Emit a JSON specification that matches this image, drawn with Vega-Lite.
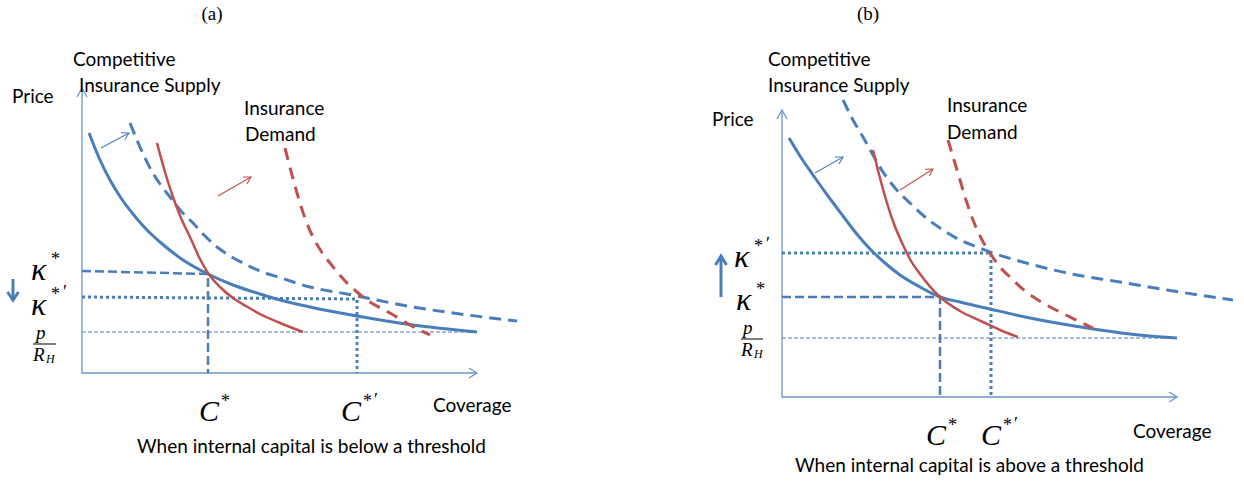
{
"$schema":"https://vega.github.io/schema/vega-lite/v6.json",
"width":1244,"height":485,"padding":0,
"autosize":{"type":"fit","contains":"padding"},
"background":"white",
"config":{"view":{"stroke":null}},
"datasets":{
"lines":[
{"id":"ax_a","g":"ax","o":1,"x":82,"y":88},{"id":"ax_a","g":"ax","o":2,"x":82,"y":373},{"id":"ax_a","g":"ax","o":3,"x":477,"y":373},
{"id":"axh_a1","g":"ax","o":1,"x":77,"y":97},{"id":"axh_a1","g":"ax","o":2,"x":82,"y":88},{"id":"axh_a1","g":"ax","o":3,"x":87,"y":97},
{"id":"axh_a2","g":"ax","o":1,"x":469,"y":368},{"id":"axh_a2","g":"ax","o":2,"x":477,"y":373},{"id":"axh_a2","g":"ax","o":3,"x":469,"y":378},
{"id":"ax_b","g":"ax","o":1,"x":782,"y":110},{"id":"ax_b","g":"ax","o":2,"x":782,"y":397},{"id":"ax_b","g":"ax","o":3,"x":1177,"y":397},
{"id":"axh_b1","g":"ax","o":1,"x":777,"y":119},{"id":"axh_b1","g":"ax","o":2,"x":782,"y":110},{"id":"axh_b1","g":"ax","o":3,"x":787,"y":119},
{"id":"axh_b2","g":"ax","o":1,"x":1169,"y":392},{"id":"axh_b2","g":"ax","o":2,"x":1177,"y":397},{"id":"axh_b2","g":"ax","o":3,"x":1169,"y":402},
{"id":"pr_a","g":"pr","o":1,"x":82,"y":332},{"id":"pr_a","g":"pr","o":2,"x":477,"y":332},
{"id":"pr_b","g":"pr","o":1,"x":782,"y":338},{"id":"pr_b","g":"pr","o":2,"x":1177,"y":338},
{"id":"kd_a","g":"kd","o":1,"x":82,"y":271},{"id":"kd_a","g":"kd","o":2,"x":208,"y":274},{"id":"kd_a","g":"kd","o":3,"x":208,"y":373},
{"id":"kd_b","g":"kd","o":1,"x":782,"y":297},{"id":"kd_b","g":"kd","o":2,"x":940,"y":297},{"id":"kd_b","g":"kd","o":3,"x":940,"y":397},
{"id":"kt_a","g":"kt","o":1,"x":82,"y":297},{"id":"kt_a","g":"kt","o":2,"x":357,"y":299},{"id":"kt_a","g":"kt","o":3,"x":357,"y":373},
{"id":"kt_b","g":"kt","o":1,"x":782,"y":253},{"id":"kt_b","g":"kt","o":2,"x":991,"y":253},{"id":"kt_b","g":"kt","o":3,"x":991,"y":397},
{"id":"sb_a","g":"sb","o":1,"x":89,"y":133},{"id":"sb_a","g":"sb","o":2,"x":100,"y":160},{"id":"sb_a","g":"sb","o":3,"x":110,"y":180},{"id":"sb_a","g":"sb","o":4,"x":121,"y":198},{"id":"sb_a","g":"sb","o":5,"x":133,"y":214},{"id":"sb_a","g":"sb","o":6,"x":146,"y":229},{"id":"sb_a","g":"sb","o":7,"x":160,"y":242},{"id":"sb_a","g":"sb","o":8,"x":183,"y":260},{"id":"sb_a","g":"sb","o":9,"x":208,"y":274},{"id":"sb_a","g":"sb","o":10,"x":233,"y":285},{"id":"sb_a","g":"sb","o":11,"x":260,"y":294},{"id":"sb_a","g":"sb","o":12,"x":280,"y":300},{"id":"sb_a","g":"sb","o":13,"x":310,"y":307},{"id":"sb_a","g":"sb","o":14,"x":357,"y":316},{"id":"sb_a","g":"sb","o":15,"x":413,"y":325},{"id":"sb_a","g":"sb","o":16,"x":477,"y":332},
{"id":"db_a","g":"db","o":1,"x":130,"y":123},{"id":"db_a","g":"db","o":2,"x":140,"y":147},{"id":"db_a","g":"db","o":3,"x":150,"y":168},{"id":"db_a","g":"db","o":4,"x":160,"y":184},{"id":"db_a","g":"db","o":5,"x":170,"y":197},{"id":"db_a","g":"db","o":6,"x":181,"y":211},{"id":"db_a","g":"db","o":7,"x":193,"y":223},{"id":"db_a","g":"db","o":8,"x":205,"y":236},{"id":"db_a","g":"db","o":9,"x":217,"y":247},{"id":"db_a","g":"db","o":10,"x":230,"y":256},{"id":"db_a","g":"db","o":11,"x":243,"y":263},{"id":"db_a","g":"db","o":12,"x":260,"y":271},{"id":"db_a","g":"db","o":13,"x":278,"y":277},{"id":"db_a","g":"db","o":14,"x":310,"y":287},{"id":"db_a","g":"db","o":15,"x":347,"y":294},{"id":"db_a","g":"db","o":16,"x":413,"y":307},{"id":"db_a","g":"db","o":17,"x":460,"y":314},{"id":"db_a","g":"db","o":18,"x":517,"y":321},
{"id":"sr_a","g":"sr","o":1,"x":157,"y":143},{"id":"sr_a","g":"sr","o":2,"x":165,"y":172},{"id":"sr_a","g":"sr","o":3,"x":173,"y":197},{"id":"sr_a","g":"sr","o":4,"x":181,"y":218},{"id":"sr_a","g":"sr","o":5,"x":190,"y":237},{"id":"sr_a","g":"sr","o":6,"x":199,"y":257},{"id":"sr_a","g":"sr","o":7,"x":208,"y":273},{"id":"sr_a","g":"sr","o":8,"x":220,"y":287},{"id":"sr_a","g":"sr","o":9,"x":233,"y":298},{"id":"sr_a","g":"sr","o":10,"x":246,"y":306},{"id":"sr_a","g":"sr","o":11,"x":260,"y":314},{"id":"sr_a","g":"sr","o":12,"x":280,"y":323},{"id":"sr_a","g":"sr","o":13,"x":303,"y":332},
{"id":"dr_a","g":"dr","o":1,"x":285,"y":148},{"id":"dr_a","g":"dr","o":2,"x":292,"y":175},{"id":"dr_a","g":"dr","o":3,"x":300,"y":203},{"id":"dr_a","g":"dr","o":4,"x":306,"y":221},{"id":"dr_a","g":"dr","o":5,"x":313,"y":237},{"id":"dr_a","g":"dr","o":6,"x":321,"y":251},{"id":"dr_a","g":"dr","o":7,"x":330,"y":263},{"id":"dr_a","g":"dr","o":8,"x":347,"y":283},{"id":"dr_a","g":"dr","o":9,"x":357,"y":292},{"id":"dr_a","g":"dr","o":10,"x":367,"y":300},{"id":"dr_a","g":"dr","o":11,"x":390,"y":313},{"id":"dr_a","g":"dr","o":12,"x":410,"y":325},{"id":"dr_a","g":"dr","o":13,"x":430,"y":335},
{"id":"sb_b","g":"sb","o":1,"x":789,"y":138},{"id":"sb_b","g":"sb","o":2,"x":800,"y":156},{"id":"sb_b","g":"sb","o":3,"x":813,"y":175},{"id":"sb_b","g":"sb","o":4,"x":828,"y":196},{"id":"sb_b","g":"sb","o":5,"x":843,"y":216},{"id":"sb_b","g":"sb","o":6,"x":856,"y":233},{"id":"sb_b","g":"sb","o":7,"x":870,"y":249},{"id":"sb_b","g":"sb","o":8,"x":885,"y":263},{"id":"sb_b","g":"sb","o":9,"x":900,"y":275},{"id":"sb_b","g":"sb","o":10,"x":920,"y":287},{"id":"sb_b","g":"sb","o":11,"x":940,"y":297},{"id":"sb_b","g":"sb","o":12,"x":960,"y":302},{"id":"sb_b","g":"sb","o":13,"x":990,"y":309},{"id":"sb_b","g":"sb","o":14,"x":1030,"y":318},{"id":"sb_b","g":"sb","o":15,"x":1087,"y":328},{"id":"sb_b","g":"sb","o":16,"x":1130,"y":334},{"id":"sb_b","g":"sb","o":17,"x":1177,"y":338},
{"id":"db_b","g":"db","o":1,"x":843,"y":100},{"id":"db_b","g":"db","o":2,"x":853,"y":120},{"id":"db_b","g":"db","o":3,"x":863,"y":137},{"id":"db_b","g":"db","o":4,"x":873,"y":155},{"id":"db_b","g":"db","o":5,"x":883,"y":172},{"id":"db_b","g":"db","o":6,"x":895,"y":188},{"id":"db_b","g":"db","o":7,"x":910,"y":203},{"id":"db_b","g":"db","o":8,"x":925,"y":217},{"id":"db_b","g":"db","o":9,"x":943,"y":230},{"id":"db_b","g":"db","o":10,"x":960,"y":240},{"id":"db_b","g":"db","o":11,"x":977,"y":247},{"id":"db_b","g":"db","o":12,"x":993,"y":253},{"id":"db_b","g":"db","o":13,"x":1030,"y":264},{"id":"db_b","g":"db","o":14,"x":1067,"y":273},{"id":"db_b","g":"db","o":15,"x":1120,"y":282},{"id":"db_b","g":"db","o":16,"x":1167,"y":290},{"id":"db_b","g":"db","o":17,"x":1233,"y":300},
{"id":"sr_b","g":"sr","o":1,"x":873,"y":150},{"id":"sr_b","g":"sr","o":2,"x":880,"y":178},{"id":"sr_b","g":"sr","o":3,"x":887,"y":203},{"id":"sr_b","g":"sr","o":4,"x":894,"y":224},{"id":"sr_b","g":"sr","o":5,"x":903,"y":245},{"id":"sr_b","g":"sr","o":6,"x":911,"y":261},{"id":"sr_b","g":"sr","o":7,"x":920,"y":274},{"id":"sr_b","g":"sr","o":8,"x":940,"y":297},{"id":"sr_b","g":"sr","o":9,"x":960,"y":311},{"id":"sr_b","g":"sr","o":10,"x":983,"y":322},{"id":"sr_b","g":"sr","o":11,"x":1000,"y":330},{"id":"sr_b","g":"sr","o":12,"x":1018,"y":337},
{"id":"dr_b","g":"dr","o":1,"x":948,"y":140},{"id":"dr_b","g":"dr","o":2,"x":954,"y":160},{"id":"dr_b","g":"dr","o":3,"x":960,"y":180},{"id":"dr_b","g":"dr","o":4,"x":966,"y":200},{"id":"dr_b","g":"dr","o":5,"x":973,"y":220},{"id":"dr_b","g":"dr","o":6,"x":981,"y":238},{"id":"dr_b","g":"dr","o":7,"x":990,"y":253},{"id":"dr_b","g":"dr","o":8,"x":1000,"y":267},{"id":"dr_b","g":"dr","o":9,"x":1010,"y":277},{"id":"dr_b","g":"dr","o":10,"x":1025,"y":291},{"id":"dr_b","g":"dr","o":11,"x":1043,"y":303},{"id":"dr_b","g":"dr","o":12,"x":1068,"y":316},{"id":"dr_b","g":"dr","o":13,"x":1093,"y":328},
{"id":"ab_a","g":"ab","o":1,"x":101,"y":148},{"id":"ab_a","g":"ab","o":2,"x":129,"y":133},
{"id":"abh_a","g":"ab","o":1,"x":121,"y":132.7},{"id":"abh_a","g":"ab","o":2,"x":129,"y":133},{"id":"abh_a","g":"ab","o":3,"x":124.8,"y":139.8},
{"id":"ab_b","g":"ab","o":1,"x":815,"y":173},{"id":"ab_b","g":"ab","o":2,"x":843,"y":157},
{"id":"abh_b","g":"ab","o":1,"x":835,"y":157},{"id":"abh_b","g":"ab","o":2,"x":843,"y":157},{"id":"abh_b","g":"ab","o":3,"x":839,"y":163.9},
{"id":"ar_a","g":"ar","o":1,"x":218,"y":196},{"id":"ar_a","g":"ar","o":2,"x":251,"y":177},
{"id":"arh_a","g":"ar","o":1,"x":243,"y":177},{"id":"arh_a","g":"ar","o":2,"x":251,"y":177},{"id":"arh_a","g":"ar","o":3,"x":247,"y":183.9},
{"id":"ar_b","g":"ar","o":1,"x":900,"y":190},{"id":"ar_b","g":"ar","o":2,"x":933,"y":169},
{"id":"arh_b","g":"ar","o":1,"x":925,"y":169.3},{"id":"arh_b","g":"ar","o":2,"x":933,"y":169},{"id":"arh_b","g":"ar","o":3,"x":929.3,"y":176.1},
{"id":"bk_a","g":"bk","o":1,"x":13,"y":279},{"id":"bk_a","g":"bk","o":2,"x":13,"y":299},
{"id":"bkh_a","g":"bk","o":1,"x":7.5,"y":292},{"id":"bkh_a","g":"bk","o":2,"x":13,"y":300},{"id":"bkh_a","g":"bk","o":3,"x":18.5,"y":292},
{"id":"bk_b","g":"bk","o":1,"x":721,"y":297},{"id":"bk_b","g":"bk","o":2,"x":721,"y":257},
{"id":"bkh_b","g":"bk","o":1,"x":715.5,"y":265},{"id":"bkh_b","g":"bk","o":2,"x":721,"y":256},{"id":"bkh_b","g":"bk","o":3,"x":726.5,"y":265},
{"id":"fb_a","g":"fb","o":1,"x":33,"y":344},{"id":"fb_a","g":"fb","o":2,"x":56,"y":344},
{"id":"fb_b","g":"fb","o":1,"x":741,"y":339},{"id":"fb_b","g":"fb","o":2,"x":763,"y":339}
],
"texts":[
{"g":"sans","x":12,"y":97,"t":"Price"},
{"g":"sans","x":73,"y":60,"t":"Competitive"},
{"g":"sans","x":79,"y":86,"t":"Insurance Supply"},
{"g":"sans","x":244,"y":109,"t":"Insurance"},
{"g":"sans","x":245,"y":135,"t":"Demand"},
{"g":"sans","x":433,"y":406,"t":"Coverage"},
{"g":"sans","x":137,"y":447,"t":"When internal capital is below a threshold"},
{"g":"sans","x":712,"y":120,"t":"Price"},
{"g":"sans","x":768,"y":60,"t":"Competitive"},
{"g":"sans","x":768,"y":86,"t":"Insurance Supply"},
{"g":"sans","x":947,"y":106,"t":"Insurance"},
{"g":"sans","x":947,"y":133,"t":"Demand"},
{"g":"sans","x":1133,"y":432,"t":"Coverage"},
{"g":"sans","x":795,"y":466,"t":"When internal capital is above a threshold"},
{"g":"title","x":212,"y":14,"t":"(a)"},
{"g":"title","x":868,"y":14,"t":"(b)"},
{"g":"kap","x":31,"y":270,"t":"κ"},
{"g":"kap","x":31,"y":305,"t":"κ"},
{"g":"kap","x":734,"y":257,"t":"κ"},
{"g":"kap","x":736,"y":300,"t":"κ"},
{"g":"big","x":199,"y":412,"t":"C"},
{"g":"big","x":341,"y":412,"t":"C"},
{"g":"big","x":926,"y":436,"t":"C"},
{"g":"big","x":981,"y":436,"t":"C"},
{"g":"sup","x":51,"y":260,"t":"*"},
{"g":"sup","x":51,"y":295,"t":"*"},
{"g":"sup","x":63,"y":293,"t":"′"},
{"g":"sup","x":221,"y":402,"t":"*"},
{"g":"sup","x":363,"y":402,"t":"*"},
{"g":"sup","x":374,"y":401,"t":"′"},
{"g":"sup","x":754,"y":247,"t":"*"},
{"g":"sup","x":766,"y":245,"t":"′"},
{"g":"sup","x":756,"y":290,"t":"*"},
{"g":"sup","x":948,"y":426,"t":"*"},
{"g":"sup","x":1003,"y":426,"t":"*"},
{"g":"sup","x":1014,"y":425,"t":"′"},
{"g":"small","x":36,"y":333,"t":"p"},
{"g":"small","x":33,"y":355,"t":"R"},
{"g":"small","x":743,"y":328,"t":"p"},
{"g":"small","x":741,"y":350,"t":"R"},
{"g":"sub","x":46,"y":359,"t":"H"},
{"g":"sub","x":754,"y":354,"t":"H"}
]
},
"layer":[
{"data":{"name":"lines"},"transform":[{"filter":"datum.g=='ax'"}],"mark":{"type":"line","color":"#6A96CC","strokeWidth":1.3},
 "encoding":{"x":{"field":"x","type":"quantitative","scale":{"domain":[0,1244],"nice":false,"zero":false},"axis":null},"y":{"field":"y","type":"quantitative","scale":{"domain":[0,485],"nice":false,"zero":false,"reverse":true},"axis":null},"detail":{"field":"id"},"order":{"field":"o"}}},
{"data":{"name":"lines"},"transform":[{"filter":"datum.g=='pr'"}],"mark":{"type":"line","color":"#4A7EBB","strokeWidth":1,"strokeDash":[4,2]},
 "encoding":{"x":{"field":"x","type":"quantitative"},"y":{"field":"y","type":"quantitative"},"detail":{"field":"id"},"order":{"field":"o"}}},
{"data":{"name":"lines"},"transform":[{"filter":"datum.g=='kd'"}],"mark":{"type":"line","color":"#4A7EBB","strokeWidth":2.5,"strokeDash":[9,4]},
 "encoding":{"x":{"field":"x","type":"quantitative"},"y":{"field":"y","type":"quantitative"},"detail":{"field":"id"},"order":{"field":"o"}}},
{"data":{"name":"lines"},"transform":[{"filter":"datum.g=='kt'"}],"mark":{"type":"line","color":"#4A7EBB","strokeWidth":3,"strokeDash":[3,3]},
 "encoding":{"x":{"field":"x","type":"quantitative"},"y":{"field":"y","type":"quantitative"},"detail":{"field":"id"},"order":{"field":"o"}}},
{"data":{"name":"lines"},"transform":[{"filter":"datum.g=='sb'"}],"mark":{"type":"line","color":"#4A7EBB","strokeWidth":3,"interpolate":"monotone"},
 "encoding":{"x":{"field":"x","type":"quantitative"},"y":{"field":"y","type":"quantitative"},"detail":{"field":"id"},"order":{"field":"o"}}},
{"data":{"name":"lines"},"transform":[{"filter":"datum.g=='db'"}],"mark":{"type":"line","color":"#4A7EBB","strokeWidth":3,"strokeDash":[12,7],"interpolate":"monotone"},
 "encoding":{"x":{"field":"x","type":"quantitative"},"y":{"field":"y","type":"quantitative"},"detail":{"field":"id"},"order":{"field":"o"}}},
{"data":{"name":"lines"},"transform":[{"filter":"datum.g=='sr'"}],"mark":{"type":"line","color":"#C0504D","strokeWidth":2.5,"interpolate":"monotone"},
 "encoding":{"x":{"field":"x","type":"quantitative"},"y":{"field":"y","type":"quantitative"},"detail":{"field":"id"},"order":{"field":"o"}}},
{"data":{"name":"lines"},"transform":[{"filter":"datum.g=='dr'"}],"mark":{"type":"line","color":"#C0504D","strokeWidth":3,"strokeDash":[12,8],"interpolate":"monotone"},
 "encoding":{"x":{"field":"x","type":"quantitative"},"y":{"field":"y","type":"quantitative"},"detail":{"field":"id"},"order":{"field":"o"}}},
{"data":{"name":"lines"},"transform":[{"filter":"datum.g=='ab'"}],"mark":{"type":"line","color":"#4A7EBB","strokeWidth":1.1},
 "encoding":{"x":{"field":"x","type":"quantitative"},"y":{"field":"y","type":"quantitative"},"detail":{"field":"id"},"order":{"field":"o"}}},
{"data":{"name":"lines"},"transform":[{"filter":"datum.g=='ar'"}],"mark":{"type":"line","color":"#C0504D","strokeWidth":1.1},
 "encoding":{"x":{"field":"x","type":"quantitative"},"y":{"field":"y","type":"quantitative"},"detail":{"field":"id"},"order":{"field":"o"}}},
{"data":{"name":"lines"},"transform":[{"filter":"datum.g=='bk'"}],"mark":{"type":"line","color":"#4A7EBB","strokeWidth":3},
 "encoding":{"x":{"field":"x","type":"quantitative"},"y":{"field":"y","type":"quantitative"},"detail":{"field":"id"},"order":{"field":"o"}}},
{"data":{"name":"lines"},"transform":[{"filter":"datum.g=='fb'"}],"mark":{"type":"line","color":"#000000","strokeWidth":1},
 "encoding":{"x":{"field":"x","type":"quantitative"},"y":{"field":"y","type":"quantitative"},"detail":{"field":"id"},"order":{"field":"o"}}},
{"data":{"name":"texts"},"transform":[{"filter":"datum.g=='sans'"}],"mark":{"type":"text","font":"Lato","fontSize":19,"align":"left","baseline":"middle","color":"#000000"},
 "encoding":{"x":{"field":"x","type":"quantitative"},"y":{"field":"y","type":"quantitative"},"text":{"field":"t"}}},
{"data":{"name":"texts"},"transform":[{"filter":"datum.g=='title'"}],"mark":{"type":"text","font":"Liberation Serif","fontSize":19,"align":"center","baseline":"middle","color":"#000000"},
 "encoding":{"x":{"field":"x","type":"quantitative"},"y":{"field":"y","type":"quantitative"},"text":{"field":"t"}}},
{"data":{"name":"texts"},"transform":[{"filter":"datum.g=='kap'"}],"mark":{"type":"text","font":"Liberation Serif","fontStyle":"italic","fontSize":32,"align":"left","baseline":"middle","color":"#000000"},
 "encoding":{"x":{"field":"x","type":"quantitative"},"y":{"field":"y","type":"quantitative"},"text":{"field":"t"}}},
{"data":{"name":"texts"},"transform":[{"filter":"datum.g=='big'"}],"mark":{"type":"text","font":"Liberation Serif","fontStyle":"italic","fontSize":30,"align":"left","baseline":"middle","color":"#000000"},
 "encoding":{"x":{"field":"x","type":"quantitative"},"y":{"field":"y","type":"quantitative"},"text":{"field":"t"}}},
{"data":{"name":"texts"},"transform":[{"filter":"datum.g=='sup'"}],"mark":{"type":"text","font":"Liberation Serif","fontSize":18,"align":"left","baseline":"middle","color":"#000000"},
 "encoding":{"x":{"field":"x","type":"quantitative"},"y":{"field":"y","type":"quantitative"},"text":{"field":"t"}}},
{"data":{"name":"texts"},"transform":[{"filter":"datum.g=='small'"}],"mark":{"type":"text","font":"Liberation Serif","fontStyle":"italic","fontSize":19,"align":"left","baseline":"middle","color":"#000000"},
 "encoding":{"x":{"field":"x","type":"quantitative"},"y":{"field":"y","type":"quantitative"},"text":{"field":"t"}}},
{"data":{"name":"texts"},"transform":[{"filter":"datum.g=='sub'"}],"mark":{"type":"text","font":"Liberation Serif","fontStyle":"italic","fontSize":12,"align":"left","baseline":"middle","color":"#000000"},
 "encoding":{"x":{"field":"x","type":"quantitative"},"y":{"field":"y","type":"quantitative"},"text":{"field":"t"}}}
]
}
